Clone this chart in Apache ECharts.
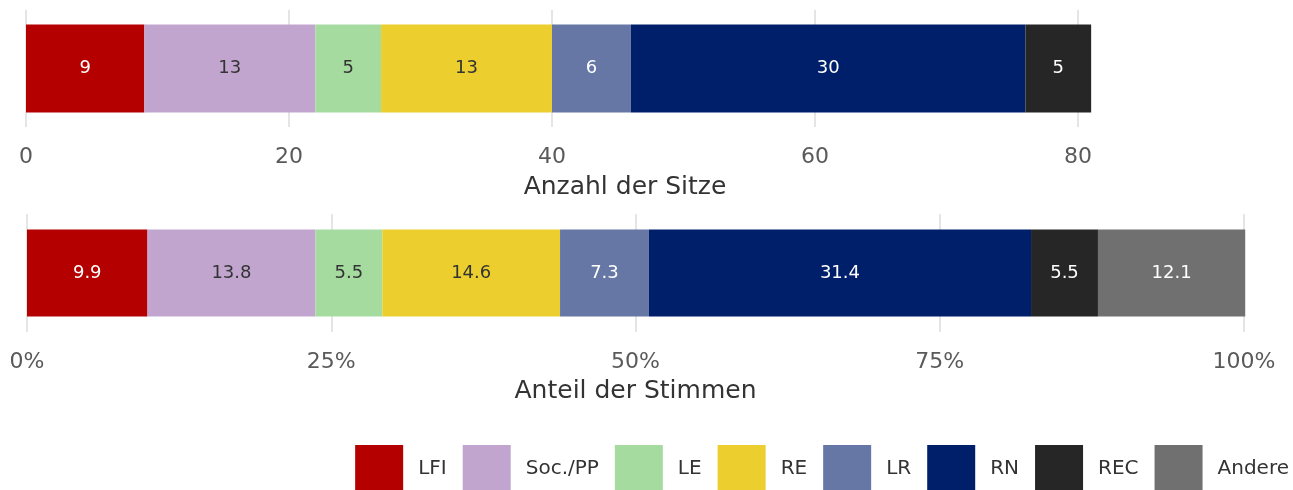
<!DOCTYPE html>
<html>
<head>
<meta charset="utf-8">
<script src="https://cdn.jsdelivr.net/npm/echarts@6/dist/echarts.min.js"></script>
<style>
  html, body { margin: 0; padding: 0; background: #fff; }
  #chart { width: 1293px; height: 490px; }
</style>
</head>
<body>
<div id="chart"></div>
<script>
// Parteien, Farben und Werte
var parties = ['LFI', 'Soc./PP', 'LE', 'RE', 'LR', 'RN', 'REC', 'Andere'];
var partyColors = ['#b50000', '#c2a5cf', '#a6dba0', '#ecce2e', '#6677a6', '#001f6b', '#262626', '#707070'];
var labelColors = ['#ffffff', '#333333', '#333333', '#333333', '#ffffff', '#ffffff', '#ffffff', '#ffffff'];
var seats = [9, 13, 5, 13, 6, 30, 5, null];
var votes = [9.9, 13.8, 5.5, 14.6, 7.3, 31.4, 5.5, 12.1];
var seatTicks = [0, 20, 40, 60, 80];
var voteTicks = [0, 25, 50, 75, 100];

var font = '"DejaVu Sans", sans-serif';
var chart = echarts.init(document.getElementById('chart'));

var series = [];
parties.forEach(function (p, i) {
  if (seats[i] != null) {
    series.push({
      name: p, type: 'bar', stack: 'sitze',
      xAxisIndex: 0, yAxisIndex: 0,
      barWidth: 88, clip: false,
      itemStyle: { color: partyColors[i] },
      label: { show: true, position: 'inside', color: labelColors[i], fontSize: 18, fontFamily: font },
      data: [seats[i]]
    });
  }
  series.push({
    name: p, type: 'bar', stack: 'stimmen',
    xAxisIndex: 1, yAxisIndex: 1,
    barWidth: 87, clip: false,
    itemStyle: { color: partyColors[i] },
    label: { show: true, position: 'inside', color: labelColors[i], fontSize: 18, fontFamily: font,
             formatter: function (d) { return d.value.toFixed(1); } },
    data: [votes[i]]
  });
});

var xCommon = {
  type: 'value',
  axisLine: { show: false },
  axisTick: { show: false },
  splitLine: { show: true, lineStyle: { color: '#dcdcdc', width: 1.5 } },
  axisLabel: { color: '#5a5a5a', fontSize: 22, fontFamily: font, margin: 19 },
  nameLocation: 'middle',
  nameTextStyle: { color: '#333', fontSize: 25, fontFamily: font }
};

var option = {
  animation: false,
  backgroundColor: '#fff',
  textStyle: { fontFamily: font },
  grid: [
    { left: 26, top: 10, width: 1052, height: 117 },
    { left: 27, top: 214, width: 1217, height: 118 }
  ],
  xAxis: [
    Object.assign({}, xCommon, {
      gridIndex: 0, min: seatTicks[0], max: seatTicks[seatTicks.length - 1], interval: 20,
      name: 'Anzahl der Sitze', nameGap: 48,
      nameTextStyle: { color: '#333', fontSize: 25, fontFamily: font, padding: [0, 0, 0, 146] }
    }),
    Object.assign({}, xCommon, {
      gridIndex: 1, min: voteTicks[0], max: voteTicks[voteTicks.length - 1], interval: 25,
      name: 'Anteil der Stimmen', nameGap: 47,
      axisLabel: { color: '#5a5a5a', fontSize: 22, fontFamily: font, margin: 19,
                   formatter: function (v) { return v + '%'; } }
    })
  ],
  yAxis: [
    { type: 'category', gridIndex: 0, data: ['Sitze'], show: false },
    { type: 'category', gridIndex: 1, data: ['Stimmen'], show: false }
  ],
  legend: {
    data: parties,
    right: 4, top: 445, padding: 0,
    itemWidth: 48, itemHeight: 48, itemGap: 16,
    icon: 'rect',
    textStyle: { color: '#333', fontSize: 20, fontFamily: font, padding: [0, 0, 0, 10] }
  },
  series: series
};

chart.setOption(option);
</script>
</body>
</html>
